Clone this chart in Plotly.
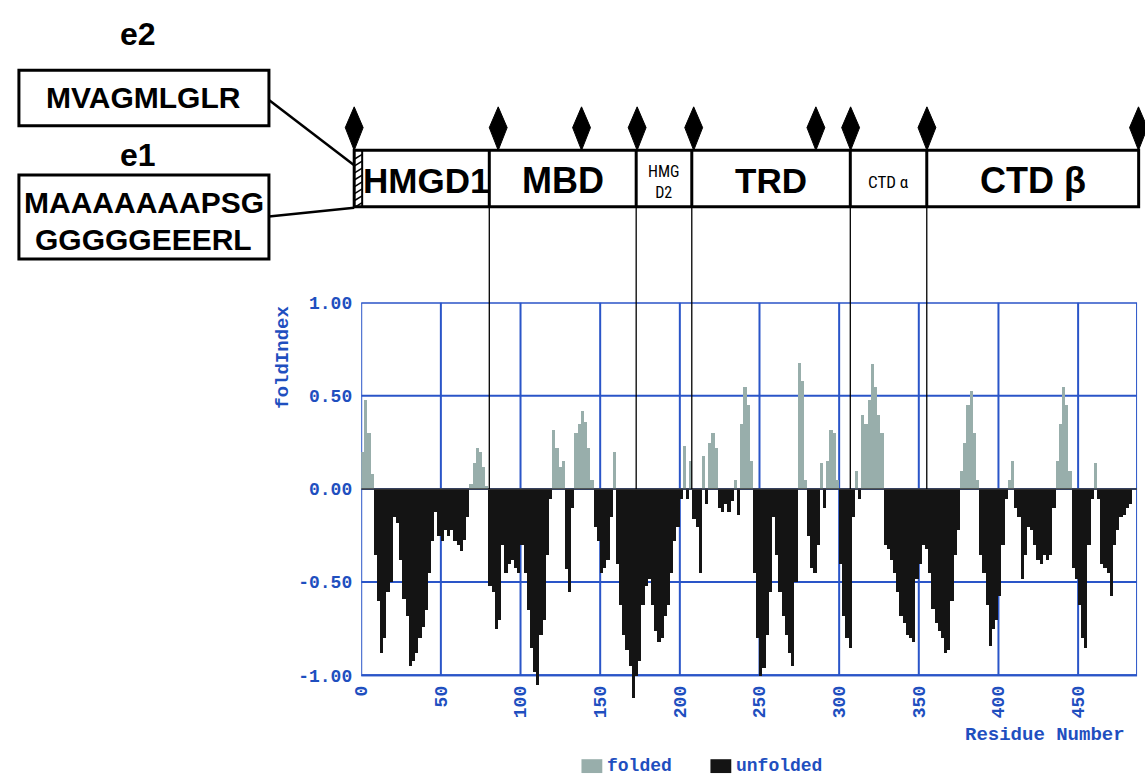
import plotly.graph_objects as go

# ---------------- data ----------------
# residue centres (2-residue bins) and FoldIndex values
residue = list(range(1, 485, 2))
fold_index = [
    0.20, 0.48, 0.30, 0.08, -0.35, -0.60, -0.88, -0.80, -0.55, -0.50,   # 1-19
    -0.15, -0.18, -0.38, -0.59, -0.68, -0.95, -0.92, -0.88, -0.80, -0.74,  # 21-39
    -0.65, -0.45, -0.28, -0.12, -0.25, -0.28, -0.22, -0.25, -0.22, -0.28,  # 41-59
    -0.30, -0.33, -0.27, -0.15, 0.03, 0.14, 0.22, 0.20, 0.12, 0.02,        # 61-79
    -0.52, -0.55, -0.75, -0.70, -0.30, -0.45, -0.40, -0.38, -0.42, -0.45,  # 81-99
    -0.30, -0.45, -0.65, -0.85, -0.98, -1.05, -0.78, -0.70, -0.35, -0.05,  # 101-119
    0.32, 0.22, 0.12, 0.15, -0.43, -0.55, -0.10, 0.30, 0.35, 0.42,         # 121-139
    0.36, 0.22, 0.05, -0.20, -0.28, -0.45, -0.42, -0.38, -0.15, 0.20,      # 141-159
    -0.40, -0.62, -0.78, -0.86, -0.95, -1.12, -1.00, -0.92, -0.62, -0.52,  # 161-179
    -0.48, -0.62, -0.76, -0.82, -0.80, -0.68, -0.62, -0.45, -0.28, -0.20,  # 181-199
    -0.05, 0.23, -0.05, 0.15, -0.16, -0.20, -0.45, 0.18, -0.08, 0.25,      # 201-219
    0.30, 0.22, -0.10, -0.12, -0.08, -0.12, -0.06, 0.05, -0.14, 0.35,      # 221-239
    0.55, 0.45, 0.15, -0.45, -0.80, -1.00, -0.96, -0.78, -0.55, -0.15,     # 241-259
    -0.35, -0.55, -0.68, -0.78, -0.88, -0.95, -0.50, 0.68, 0.58, 0.05,     # 261-279
    -0.25, -0.42, -0.45, -0.30, 0.14, -0.10, 0.15, 0.32, 0.30, 0.05,       # 281-299
    -0.40, -0.68, -0.80, -0.85, -0.15, 0.10, -0.05, 0.40, 0.35, 0.48,      # 301-319
    0.67, 0.55, 0.40, 0.30, -0.30, -0.32, -0.38, -0.45, -0.55, -0.68,      # 321-339
    -0.72, -0.78, -0.80, -0.82, -0.48, -0.40, -0.30, -0.32, -0.45, -0.64,  # 341-359
    -0.72, -0.76, -0.80, -0.88, -0.86, -0.60, -0.35, -0.22, 0.10, 0.25,    # 361-379
    0.45, 0.53, 0.30, 0.05, -0.35, -0.45, -0.62, -0.84, -0.75, -0.70,      # 381-399
    -0.57, -0.30, -0.05, 0.05, 0.15, -0.10, -0.15, -0.48, -0.35, -0.20,    # 401-419
    -0.22, -0.30, -0.38, -0.40, -0.35, -0.38, -0.35, -0.10, 0.15, 0.35,    # 421-439
    0.55, 0.45, 0.10, -0.42, -0.48, -0.62, -0.80, -0.85, -0.30, -0.05,     # 441-459
    0.14, -0.05, -0.40, -0.42, -0.45, -0.57, -0.30, -0.22, -0.15, -0.14,   # 461-479
    -0.10, -0.08,                                                          # 481-483
]
residue = residue[:len(fold_index)]

x_ticks = [0, 50, 100, 150, 200, 250, 300, 350, 400, 450]
y_ticks = [-1.0, -0.5, 0.0, 0.5, 1.0]

domain_names = ["HMGD1", "MBD", "HMG<br>D2", "TRD", "CTD α", "CTD β"]
domain_bounds = [0.6, 80.4, 172.6, 207.5, 307.0, 355.0, 488.0]
domain_font = [35, 36, 16, 35, 17, 36]
exon_start = -4.4
diamond_res = [-4.4, 86.0, 138.3, 173.2, 208.7, 285.4, 307.2, 355.1, 487.9]
legend_names = ["folded", "unfolded"]
legend_colors = ["#98aeab", "#141414"]

# ---------------- geometry ----------------
W, H = 1145, 777
X0_PX, X1_PX = 355, 1137
X_MIN, X_MAX = 0, 487
Y1_PX, YM1_PX = 297, 674
Y_LOW = -1.2
yscale = (YM1_PX - Y1_PX) / 2.0
y_low_px = YM1_PX + (-1 - Y_LOW) * yscale
zero_px = Y1_PX + yscale

BLUE = "#2a55c8"
TXT_BLUE = "#1f4fbf"
MONO = dict(family="Liberation Mono, Courier New, monospace", color=TXT_BLUE, weight="bold")


def fx(p):
    return p / W


def fy(p):
    return 1 - p / H


def res_px(r):
    return X0_PX + (r - X_MIN) / (X_MAX - X_MIN) * (X1_PX - X0_PX)


pos_x = [r for r, v in zip(residue, fold_index) if v > 0]
pos_y = [v for v in fold_index if v > 0]
neg_x = [r for r, v in zip(residue, fold_index) if v <= 0]
neg_y = [v for v in fold_index if v <= 0]

fig = go.Figure()
fig.add_trace(go.Bar(x=pos_x, y=pos_y, width=2, name=legend_names[0], showlegend=False,
                     marker=dict(color=legend_colors[0], line=dict(width=0))))
fig.add_trace(go.Bar(x=neg_x, y=neg_y, width=2, name=legend_names[1], showlegend=False,
                     marker=dict(color=legend_colors[1], line=dict(width=0))))

shapes = []
# grid + frame
for t in x_ticks[1:]:
    shapes.append(dict(type="line", xref="x", yref="y", x0=t, x1=t, y0=-1, y1=1,
                       line=dict(color=BLUE, width=2), layer="below"))
for t in y_ticks:
    shapes.append(dict(type="line", xref="x", yref="y", x0=X_MIN, x1=X_MAX, y0=t, y1=t,
                       line=dict(color=BLUE, width=2), layer="below"))
shapes.append(dict(type="rect", xref="x", yref="y", x0=X_MIN, x1=X_MAX, y0=-1, y1=1,
                   line=dict(color=BLUE, width=2), layer="below"))
shapes.append(dict(type="line", xref="x", yref="y", x0=X_MIN, x1=X_MAX, y0=0, y1=0,
                   line=dict(color="#3a3a3a", width=1.5), layer="above"))

# vertical guide lines from domain map down to zero line
for b in domain_bounds[1:-1]:
    shapes.append(dict(type="line", xref="paper", yref="paper",
                       x0=fx(res_px(b)), x1=fx(res_px(b)), y0=fy(zero_px), y1=fy(200),
                       line=dict(color="black", width=1.3)))

# domain bar
BAR_T, BAR_B = 143, 200
shapes.append(dict(type="rect", xref="paper", yref="paper",
                   x0=fx(res_px(exon_start)), x1=fx(res_px(domain_bounds[-1])),
                   y0=fy(BAR_B), y1=fy(BAR_T), line=dict(color="black", width=3),
                   fillcolor="white"))
for b in domain_bounds[:-1]:
    shapes.append(dict(type="line", xref="paper", yref="paper",
                       x0=fx(res_px(b)), x1=fx(res_px(b)), y0=fy(BAR_B), y1=fy(BAR_T),
                       line=dict(color="black", width=3 if b > 1 else 2)))
# hatch in exon segment
hx0, hx1 = res_px(exon_start), res_px(domain_bounds[0])
yy = BAR_T + 4
while yy < BAR_B:
    shapes.append(dict(type="line", xref="paper", yref="paper",
                       x0=fx(hx0), x1=fx(hx1), y0=fy(yy + 5), y1=fy(yy),
                       line=dict(color="black", width=1.5)))
    yy += 7

# diamonds
for d in diamond_res:
    cx = res_px(d)
    path = "M {a},{t} L {r},{m} L {a},{b} L {l},{m} Z".format(
        a=fx(cx), t=fy(99), r=fx(cx + 9), m=fy(120), b=fy(BAR_T), l=fx(cx - 9))
    shapes.append(dict(type="path", xref="paper", yref="paper", path=path,
                       fillcolor="black", line=dict(color="black", width=1)))

# left exon boxes and connectors
shapes.append(dict(type="rect", xref="paper", yref="paper", x0=fx(10), x1=fx(262),
                   y0=fy(118), y1=fy(62), line=dict(color="black", width=3)))
shapes.append(dict(type="rect", xref="paper", yref="paper", x0=fx(10), x1=fx(262),
                   y0=fy(253), y1=fy(168), line=dict(color="black", width=3)))
shapes.append(dict(type="line", xref="paper", yref="paper", x0=fx(262), y0=fy(92),
                   x1=fx(res_px(exon_start)), y1=fy(158), line=dict(color="black", width=2.5)))
shapes.append(dict(type="line", xref="paper", yref="paper", x0=fx(262), y0=fy(210),
                   x1=fx(res_px(exon_start)), y1=fy(201), line=dict(color="black", width=2.5)))

# manual legend swatches
legend_x = [577, 707]
for lx, col in zip(legend_x, legend_colors):
    shapes.append(dict(type="rect", xref="paper", yref="paper", x0=fx(lx), x1=fx(lx + 21),
                       y0=fy(773), y1=fy(759), fillcolor=col, line=dict(width=0)))

ann = []
SANS = "Liberation Sans, Arial, sans-serif"
NARROW = "Liberation Sans Narrow, Arial Narrow, Roboto Condensed, Liberation Sans, sans-serif"


def label(text, x, y, size, family=SANS, color="black", weight="bold", angle=0,
          xanchor="center"):
    ann.append(dict(text=text, x=fx(x), y=fy(y), xref="paper", yref="paper",
                    showarrow=False, xanchor=xanchor, yanchor="middle", textangle=angle,
                    font=dict(family=family, size=size, color=color, weight=weight)))


for i, name in enumerate(domain_names):
    cx = (res_px(domain_bounds[i]) + res_px(domain_bounds[i + 1])) / 2
    small = domain_font[i] < 20
    label(name, cx, 174 if not small else 175, domain_font[i],
          family=NARROW if small else SANS, weight="normal" if small else "bold")

label("e2", 130, 25, 32)
label("MVAGMLGLR", 136, 90, 30)
label("e1", 130, 148, 32)
label("MAAAAAAAPSG", 136, 196, 30)
label("GGGGGEEERL", 136, 233, 30)

ann.append(dict(text="foldIndex", x=fx(276), y=fy(352), xref="paper", yref="paper",
                showarrow=False, textangle=-90, xanchor="center", yanchor="middle",
                font=dict(size=19, **MONO)))
ann.append(dict(text="Residue Number", x=fx(1127), y=fy(735), xref="paper", yref="paper",
                showarrow=False, xanchor="right", yanchor="middle",
                font=dict(size=19, **MONO)))
for lx, name in zip(legend_x, legend_names):
    ann.append(dict(text=name, x=fx(lx + 24), y=fy(766), xref="paper", yref="paper",
                    showarrow=False, xanchor="left", yanchor="middle",
                    font=dict(size=18, **MONO)))

fig.update_layout(
    width=W, height=H, margin=dict(l=0, r=0, t=0, b=0),
    paper_bgcolor="white", plot_bgcolor="white",
    barmode="overlay", bargap=0, showlegend=False,
    shapes=shapes, annotations=ann,
    xaxis=dict(domain=[fx(X0_PX), fx(X1_PX)], range=[X_MIN, X_MAX],
               anchor="free", position=fy(YM1_PX),
               tickvals=x_ticks, ticktext=[str(t) for t in x_ticks],
               tickangle=-90, ticks="", ticklabelstandoff=6,
               showgrid=False, zeroline=False, showline=False,
               tickfont=dict(size=18, **MONO)),
    yaxis=dict(domain=[fy(y_low_px), fy(Y1_PX)], range=[Y_LOW, 1.0],
               tickvals=y_ticks, ticktext=["%.2f" % t for t in y_ticks],
               ticks="", ticklabelstandoff=8,
               showgrid=False, zeroline=False, showline=False,
               tickfont=dict(size=18, **MONO)),
)

fig.write_html("out.html", config={"displayModeBar": False},
               post_script="document.body.style.margin='0';document.body.style.overflow='hidden';")
